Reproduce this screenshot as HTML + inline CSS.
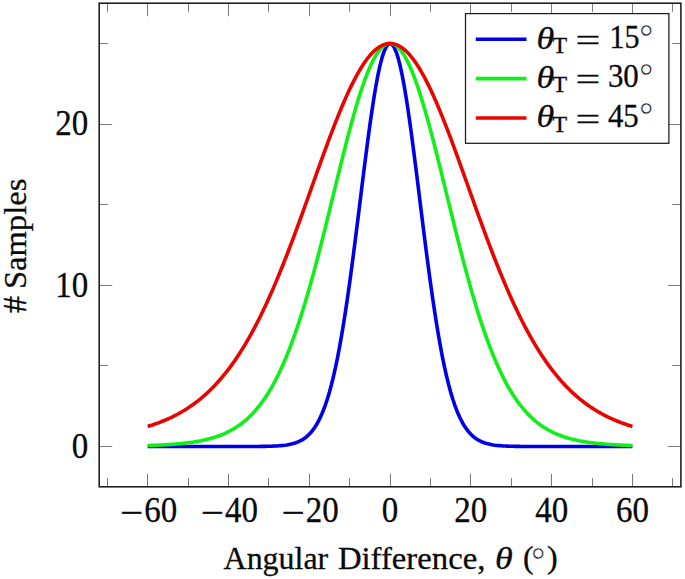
<!DOCTYPE html>
<html><head><meta charset="utf-8"><title>Samples vs Angular Difference</title>
<style>html,body{margin:0;padding:0;background:#fff}svg{display:block}text{font-family:"Liberation Serif","DejaVu Serif",serif;fill:#0a0a0a;stroke:#0a0a0a;stroke-width:.3px}</style></head><body>
<svg width="685" height="579" viewBox="0 0 685 579">
<rect width="685" height="579" fill="#fff"/>
<path d="M107.50 486.80v-8.60M107.50 3.20v8.60M147.50 486.80v-13.00M147.50 3.20v13.00M188.50 486.80v-8.60M188.50 3.20v8.60M228.50 486.80v-13.00M228.50 3.20v13.00M268.50 486.80v-8.60M268.50 3.20v8.60M309.50 486.80v-13.00M309.50 3.20v13.00M349.50 486.80v-8.60M349.50 3.20v8.60M390.50 486.80v-13.00M390.50 3.20v13.00M430.50 486.80v-8.60M430.50 3.20v8.60M470.50 486.80v-13.00M470.50 3.20v13.00M511.50 486.80v-8.60M511.50 3.20v8.60M551.50 486.80v-13.00M551.50 3.20v13.00M592.50 486.80v-8.60M592.50 3.20v8.60M632.50 486.80v-13.00M632.50 3.20v13.00M672.50 486.80v-8.60M672.50 3.20v8.60M99.20 446.50h13.00M680.90 446.50h-13.00M99.20 365.50h8.60M680.90 365.50h-8.60M99.20 285.50h13.00M680.90 285.50h-13.00M99.20 204.50h8.60M680.90 204.50h-8.60M99.20 124.50h13.00M680.90 124.50h-13.00M99.20 43.50h8.60M680.90 43.50h-8.60" stroke="#7a7a7a" stroke-width="1" fill="none"/>
<path d="M147.68 446.50 L149.69 446.50 L151.71 446.50 L153.73 446.50 L155.75 446.50 L157.77 446.50 L159.79 446.50 L161.81 446.50 L163.83 446.50 L165.85 446.50 L167.87 446.50 L169.89 446.50 L171.91 446.50 L173.93 446.50 L175.95 446.50 L177.97 446.50 L179.99 446.50 L182.01 446.50 L184.03 446.50 L186.05 446.50 L188.07 446.50 L190.09 446.50 L192.11 446.50 L194.13 446.50 L196.15 446.50 L198.17 446.50 L200.19 446.50 L202.21 446.50 L204.23 446.50 L206.25 446.50 L208.27 446.50 L210.29 446.50 L212.31 446.50 L214.33 446.50 L216.35 446.50 L218.37 446.50 L220.39 446.50 L222.41 446.50 L224.43 446.50 L226.45 446.50 L228.47 446.50 L230.49 446.50 L232.51 446.50 L234.53 446.50 L236.55 446.50 L238.57 446.49 L240.59 446.49 L242.61 446.49 L244.62 446.49 L246.64 446.48 L248.66 446.48 L250.68 446.47 L252.70 446.46 L254.72 446.45 L256.74 446.44 L258.76 446.43 L260.78 446.41 L262.80 446.38 L264.82 446.35 L266.84 446.32 L268.86 446.27 L270.88 446.21 L272.90 446.14 L274.92 446.05 L276.94 445.94 L278.96 445.81 L280.98 445.64 L283.00 445.44 L285.02 445.20 L287.04 444.91 L289.06 444.55 L291.08 444.13 L293.10 443.61 L295.12 443.00 L297.14 442.28 L299.16 441.41 L301.18 440.39 L303.20 439.20 L305.22 437.79 L307.24 436.15 L309.26 434.24 L311.28 432.03 L313.30 429.48 L315.32 426.56 L317.34 423.21 L319.36 419.41 L321.38 415.10 L323.40 410.24 L325.42 404.80 L327.44 398.72 L329.46 391.96 L331.48 384.49 L333.50 376.29 L335.52 367.31 L337.54 357.55 L339.56 346.99 L341.57 335.63 L343.59 323.50 L345.61 310.60 L347.63 296.98 L349.65 282.70 L351.67 267.81 L353.69 252.41 L355.71 236.60 L357.73 220.48 L359.75 204.18 L361.77 187.84 L363.79 171.62 L365.81 155.68 L367.83 140.17 L369.85 125.27 L371.87 111.16 L373.89 97.99 L375.91 85.94 L377.93 75.15 L379.95 65.75 L381.97 57.89 L383.99 51.66 L386.01 47.15 L388.03 44.42 L390.05 43.50 L392.07 44.42 L394.09 47.15 L396.11 51.66 L398.13 57.89 L400.15 65.75 L402.17 75.15 L404.19 85.94 L406.21 97.99 L408.23 111.16 L410.25 125.27 L412.27 140.17 L414.29 155.68 L416.31 171.62 L418.33 187.84 L420.35 204.18 L422.37 220.48 L424.39 236.60 L426.41 252.41 L428.43 267.81 L430.45 282.70 L432.47 296.98 L434.49 310.60 L436.51 323.50 L438.52 335.63 L440.54 346.99 L442.56 357.55 L444.58 367.31 L446.60 376.29 L448.62 384.49 L450.64 391.96 L452.66 398.72 L454.68 404.80 L456.70 410.24 L458.72 415.10 L460.74 419.41 L462.76 423.21 L464.78 426.56 L466.80 429.48 L468.82 432.03 L470.84 434.24 L472.86 436.15 L474.88 437.79 L476.90 439.20 L478.92 440.39 L480.94 441.41 L482.96 442.28 L484.98 443.00 L487.00 443.61 L489.02 444.13 L491.04 444.55 L493.06 444.91 L495.08 445.20 L497.10 445.44 L499.12 445.64 L501.14 445.81 L503.16 445.94 L505.18 446.05 L507.20 446.14 L509.22 446.21 L511.24 446.27 L513.26 446.32 L515.28 446.35 L517.30 446.38 L519.32 446.41 L521.34 446.43 L523.36 446.44 L525.38 446.45 L527.40 446.46 L529.42 446.47 L531.44 446.48 L533.46 446.48 L535.48 446.49 L537.49 446.49 L539.51 446.49 L541.53 446.49 L543.55 446.50 L545.57 446.50 L547.59 446.50 L549.61 446.50 L551.63 446.50 L553.65 446.50 L555.67 446.50 L557.69 446.50 L559.71 446.50 L561.73 446.50 L563.75 446.50 L565.77 446.50 L567.79 446.50 L569.81 446.50 L571.83 446.50 L573.85 446.50 L575.87 446.50 L577.89 446.50 L579.91 446.50 L581.93 446.50 L583.95 446.50 L585.97 446.50 L587.99 446.50 L590.01 446.50 L592.03 446.50 L594.05 446.50 L596.07 446.50 L598.09 446.50 L600.11 446.50 L602.13 446.50 L604.15 446.50 L606.17 446.50 L608.19 446.50 L610.21 446.50 L612.23 446.50 L614.25 446.50 L616.27 446.50 L618.29 446.50 L620.31 446.50 L622.33 446.50 L624.35 446.50 L626.37 446.50 L628.39 446.50 L630.41 446.50 L632.42 446.50" stroke="#0000e6" stroke-width="3.6" fill="none" stroke-linejoin="round"/>
<path d="M147.68 445.50 L149.69 445.44 L151.71 445.37 L153.73 445.30 L155.75 445.22 L157.77 445.14 L159.79 445.05 L161.81 444.95 L163.83 444.85 L165.85 444.74 L167.87 444.62 L169.89 444.49 L171.91 444.36 L173.93 444.21 L175.95 444.05 L177.97 443.88 L179.99 443.70 L182.01 443.50 L184.03 443.29 L186.05 443.06 L188.07 442.81 L190.09 442.55 L192.11 442.27 L194.13 441.97 L196.15 441.64 L198.17 441.29 L200.19 440.92 L202.21 440.51 L204.23 440.08 L206.25 439.62 L208.27 439.12 L210.29 438.59 L212.31 438.01 L214.33 437.40 L216.35 436.74 L218.37 436.04 L220.39 435.29 L222.41 434.48 L224.43 433.62 L226.45 432.70 L228.47 431.72 L230.49 430.67 L232.51 429.54 L234.53 428.35 L236.55 427.07 L238.57 425.72 L240.59 424.27 L242.61 422.73 L244.62 421.09 L246.64 419.35 L248.66 417.51 L250.68 415.55 L252.70 413.47 L254.72 411.27 L256.74 408.94 L258.76 406.48 L260.78 403.88 L262.80 401.13 L264.82 398.23 L266.84 395.18 L268.86 391.96 L270.88 388.58 L272.90 385.03 L274.92 381.30 L276.94 377.39 L278.96 373.30 L280.98 369.02 L283.00 364.54 L285.02 359.88 L287.04 355.01 L289.06 349.95 L291.08 344.68 L293.10 339.22 L295.12 333.55 L297.14 327.68 L299.16 321.62 L301.18 315.36 L303.20 308.90 L305.22 302.25 L307.24 295.43 L309.26 288.42 L311.28 281.24 L313.30 273.90 L315.32 266.41 L317.34 258.77 L319.36 251.00 L321.38 243.12 L323.40 235.13 L325.42 227.05 L327.44 218.90 L329.46 210.69 L331.48 202.44 L333.50 194.17 L335.52 185.91 L337.54 177.66 L339.56 169.46 L341.57 161.32 L343.59 153.27 L345.61 145.33 L347.63 137.53 L349.65 129.88 L351.67 122.41 L353.69 115.15 L355.71 108.12 L357.73 101.35 L359.75 94.85 L361.77 88.65 L363.79 82.77 L365.81 77.23 L367.83 72.05 L369.85 67.26 L371.87 62.87 L373.89 58.89 L375.91 55.34 L377.93 52.23 L379.95 49.59 L381.97 47.41 L383.99 45.70 L386.01 44.48 L388.03 43.75 L390.05 43.50 L392.07 43.75 L394.09 44.48 L396.11 45.70 L398.13 47.41 L400.15 49.59 L402.17 52.23 L404.19 55.34 L406.21 58.89 L408.23 62.87 L410.25 67.26 L412.27 72.05 L414.29 77.23 L416.31 82.77 L418.33 88.65 L420.35 94.85 L422.37 101.35 L424.39 108.12 L426.41 115.15 L428.43 122.41 L430.45 129.88 L432.47 137.53 L434.49 145.33 L436.51 153.27 L438.52 161.32 L440.54 169.46 L442.56 177.66 L444.58 185.91 L446.60 194.17 L448.62 202.44 L450.64 210.69 L452.66 218.90 L454.68 227.05 L456.70 235.13 L458.72 243.12 L460.74 251.00 L462.76 258.77 L464.78 266.41 L466.80 273.90 L468.82 281.24 L470.84 288.42 L472.86 295.43 L474.88 302.25 L476.90 308.90 L478.92 315.36 L480.94 321.62 L482.96 327.68 L484.98 333.55 L487.00 339.22 L489.02 344.68 L491.04 349.95 L493.06 355.01 L495.08 359.88 L497.10 364.54 L499.12 369.02 L501.14 373.30 L503.16 377.39 L505.18 381.30 L507.20 385.03 L509.22 388.58 L511.24 391.96 L513.26 395.18 L515.28 398.23 L517.30 401.13 L519.32 403.88 L521.34 406.48 L523.36 408.94 L525.38 411.27 L527.40 413.47 L529.42 415.55 L531.44 417.51 L533.46 419.35 L535.48 421.09 L537.49 422.73 L539.51 424.27 L541.53 425.72 L543.55 427.07 L545.57 428.35 L547.59 429.54 L549.61 430.67 L551.63 431.72 L553.65 432.70 L555.67 433.62 L557.69 434.48 L559.71 435.29 L561.73 436.04 L563.75 436.74 L565.77 437.40 L567.79 438.01 L569.81 438.59 L571.83 439.12 L573.85 439.62 L575.87 440.08 L577.89 440.51 L579.91 440.92 L581.93 441.29 L583.95 441.64 L585.97 441.97 L587.99 442.27 L590.01 442.55 L592.03 442.81 L594.05 443.06 L596.07 443.29 L598.09 443.50 L600.11 443.70 L602.13 443.88 L604.15 444.05 L606.17 444.21 L608.19 444.36 L610.21 444.49 L612.23 444.62 L614.25 444.74 L616.27 444.85 L618.29 444.95 L620.31 445.05 L622.33 445.14 L624.35 445.22 L626.37 445.30 L628.39 445.37 L630.41 445.44 L632.42 445.50" stroke="#10f018" stroke-width="3.6" fill="none" stroke-linejoin="round"/>
<path d="M147.68 426.44 L149.69 425.82 L151.71 425.17 L153.73 424.50 L155.75 423.80 L157.77 423.08 L159.79 422.32 L161.81 421.54 L163.83 420.72 L165.85 419.87 L167.87 418.98 L169.89 418.06 L171.91 417.10 L173.93 416.11 L175.95 415.07 L177.97 414.00 L179.99 412.88 L182.01 411.72 L184.03 410.51 L186.05 409.26 L188.07 407.96 L190.09 406.61 L192.11 405.21 L194.13 403.76 L196.15 402.25 L198.17 400.68 L200.19 399.06 L202.21 397.38 L204.23 395.64 L206.25 393.83 L208.27 391.96 L210.29 390.02 L212.31 388.02 L214.33 385.94 L216.35 383.79 L218.37 381.57 L220.39 379.28 L222.41 376.91 L224.43 374.46 L226.45 371.92 L228.47 369.31 L230.49 366.62 L232.51 363.84 L234.53 360.97 L236.55 358.02 L238.57 354.98 L240.59 351.85 L242.61 348.63 L244.62 345.31 L246.64 341.91 L248.66 338.41 L250.68 334.82 L252.70 331.13 L254.72 327.35 L256.74 323.47 L258.76 319.50 L260.78 315.44 L262.80 311.28 L264.82 307.03 L266.84 302.68 L268.86 298.24 L270.88 293.72 L272.90 289.10 L274.92 284.40 L276.94 279.61 L278.96 274.74 L280.98 269.79 L283.00 264.76 L285.02 259.66 L287.04 254.48 L289.06 249.24 L291.08 243.94 L293.10 238.57 L295.12 233.15 L297.14 227.68 L299.16 222.16 L301.18 216.61 L303.20 211.02 L305.22 205.40 L307.24 199.75 L309.26 194.10 L311.28 188.43 L313.30 182.76 L315.32 177.10 L317.34 171.45 L319.36 165.81 L321.38 160.21 L323.40 154.64 L325.42 149.11 L327.44 143.64 L329.46 138.23 L331.48 132.88 L333.50 127.61 L335.52 122.43 L337.54 117.35 L339.56 112.36 L341.57 107.49 L343.59 102.74 L345.61 98.12 L347.63 93.63 L349.65 89.29 L351.67 85.10 L353.69 81.08 L355.71 77.22 L357.73 73.54 L359.75 70.05 L361.77 66.74 L363.79 63.64 L365.81 60.73 L367.83 58.04 L369.85 55.56 L371.87 53.30 L373.89 51.27 L375.91 49.46 L377.93 47.89 L379.95 46.56 L381.97 45.46 L383.99 44.60 L386.01 43.99 L388.03 43.62 L390.05 43.50 L392.07 43.62 L394.09 43.99 L396.11 44.60 L398.13 45.46 L400.15 46.56 L402.17 47.89 L404.19 49.46 L406.21 51.27 L408.23 53.30 L410.25 55.56 L412.27 58.04 L414.29 60.73 L416.31 63.64 L418.33 66.74 L420.35 70.05 L422.37 73.54 L424.39 77.22 L426.41 81.08 L428.43 85.10 L430.45 89.29 L432.47 93.63 L434.49 98.12 L436.51 102.74 L438.52 107.49 L440.54 112.36 L442.56 117.35 L444.58 122.43 L446.60 127.61 L448.62 132.88 L450.64 138.23 L452.66 143.64 L454.68 149.11 L456.70 154.64 L458.72 160.21 L460.74 165.81 L462.76 171.45 L464.78 177.10 L466.80 182.76 L468.82 188.43 L470.84 194.10 L472.86 199.75 L474.88 205.40 L476.90 211.02 L478.92 216.61 L480.94 222.16 L482.96 227.68 L484.98 233.15 L487.00 238.57 L489.02 243.94 L491.04 249.24 L493.06 254.48 L495.08 259.66 L497.10 264.76 L499.12 269.79 L501.14 274.74 L503.16 279.61 L505.18 284.40 L507.20 289.10 L509.22 293.72 L511.24 298.24 L513.26 302.68 L515.28 307.03 L517.30 311.28 L519.32 315.44 L521.34 319.50 L523.36 323.47 L525.38 327.35 L527.40 331.13 L529.42 334.82 L531.44 338.41 L533.46 341.91 L535.48 345.31 L537.49 348.63 L539.51 351.85 L541.53 354.98 L543.55 358.02 L545.57 360.97 L547.59 363.84 L549.61 366.62 L551.63 369.31 L553.65 371.92 L555.67 374.46 L557.69 376.91 L559.71 379.28 L561.73 381.57 L563.75 383.79 L565.77 385.94 L567.79 388.02 L569.81 390.02 L571.83 391.96 L573.85 393.83 L575.87 395.64 L577.89 397.38 L579.91 399.06 L581.93 400.68 L583.95 402.25 L585.97 403.76 L587.99 405.21 L590.01 406.61 L592.03 407.96 L594.05 409.26 L596.07 410.51 L598.09 411.72 L600.11 412.88 L602.13 414.00 L604.15 415.07 L606.17 416.11 L608.19 417.10 L610.21 418.06 L612.23 418.98 L614.25 419.87 L616.27 420.72 L618.29 421.54 L620.31 422.32 L622.33 423.08 L624.35 423.80 L626.37 424.50 L628.39 425.17 L630.41 425.82 L632.42 426.44" stroke="#e80500" stroke-width="3.6" fill="none" stroke-linejoin="round"/>
<rect x="99.20" y="3.20" width="581.70" height="483.60" fill="none" stroke="#1a1a1a" stroke-width="1.55"/>
<rect x="465.5" y="13.6" width="203.4" height="129.7" fill="#fff" stroke="#1a1a1a" stroke-width="1.25"/>
<path d="M475.8 39.30H526.5" stroke="#0000e6" stroke-width="3.6"/>
<text transform="translate(536.5 48.50) scale(1.13 0.965)" font-size="32" font-style="italic" style="stroke-width:.28px">θ</text>
<text x="552.4" y="52.90" font-size="24">T</text>
<text x="575.6" y="51.00" font-size="32" textLength="24.8" lengthAdjust="spacingAndGlyphs" style="stroke-width:.3px">=</text>
<text transform="translate(609.4 47.80) scale(0.925 1.04)" font-size="32.5">15</text>
<text x="639.3" y="48.70" font-size="35" style="stroke:#fff;stroke-width:.5px">°</text>
<path d="M475.8 78.65H526.5" stroke="#10f018" stroke-width="3.6"/>
<text transform="translate(536.5 87.85) scale(1.13 0.965)" font-size="32" font-style="italic" style="stroke-width:.28px">θ</text>
<text x="552.4" y="92.25" font-size="24">T</text>
<text x="575.6" y="90.00" font-size="32" textLength="24.8" lengthAdjust="spacingAndGlyphs" style="stroke-width:.3px">=</text>
<text transform="translate(607.9 87.15) scale(0.95 1.04)" font-size="32.5">30</text>
<text x="639.3" y="88.05" font-size="35" style="stroke:#fff;stroke-width:.5px">°</text>
<path d="M475.8 118.00H526.5" stroke="#e80500" stroke-width="3.6"/>
<text transform="translate(536.5 127.20) scale(1.13 0.965)" font-size="32" font-style="italic" style="stroke-width:.28px">θ</text>
<text x="552.4" y="131.60" font-size="24">T</text>
<text x="575.6" y="130.00" font-size="32" textLength="24.8" lengthAdjust="spacingAndGlyphs" style="stroke-width:.3px">=</text>
<text transform="translate(607.9 126.50) scale(0.95 1.04)" font-size="32.5">45</text>
<text x="639.3" y="127.40" font-size="35" style="stroke:#fff;stroke-width:.5px">°</text>
<text x="119.98" y="523.8" font-size="34" textLength="22.8" lengthAdjust="spacingAndGlyphs" style="stroke-width:.5px">−</text>
<text transform="translate(144.18 521.7) scale(0.97 1.035)" font-size="34">60</text>
<text x="200.77" y="523.8" font-size="34" textLength="22.8" lengthAdjust="spacingAndGlyphs" style="stroke-width:.5px">−</text>
<text transform="translate(224.97 521.7) scale(0.97 1.035)" font-size="34">40</text>
<text x="281.56" y="523.8" font-size="34" textLength="22.8" lengthAdjust="spacingAndGlyphs" style="stroke-width:.5px">−</text>
<text transform="translate(305.76 521.7) scale(0.97 1.035)" font-size="34">20</text>
<text transform="translate(390.05 521.7) scale(0.97 1.035)" font-size="34" text-anchor="middle">0</text>
<text transform="translate(470.84 521.7) scale(0.97 1.035)" font-size="34" text-anchor="middle">20</text>
<text transform="translate(551.63 521.7) scale(0.97 1.035)" font-size="34" text-anchor="middle">40</text>
<text transform="translate(632.42 521.7) scale(0.97 1.035)" font-size="34" text-anchor="middle">60</text>
<text transform="translate(88.3 457.70) scale(0.97 1.035)" font-size="34" text-anchor="end">0</text>
<text transform="translate(88.3 296.50) scale(0.97 1.035)" font-size="34" text-anchor="end">10</text>
<text transform="translate(88.3 135.30) scale(0.97 1.035)" font-size="34" text-anchor="end">20</text>
<text x="223.6" y="568.6" font-size="32" textLength="104.6" lengthAdjust="spacingAndGlyphs">Angular</text>
<text x="337.9" y="568.6" font-size="32" textLength="147.5" lengthAdjust="spacingAndGlyphs">Difference,</text>
<text transform="translate(494.9 568.9) scale(1.13 0.965)" font-size="32" font-style="italic" style="stroke-width:.28px">θ</text>
<text x="523.0" y="568.3" font-size="32">(</text>
<text x="531.25" y="571.7" font-size="35" style="stroke:#fff;stroke-width:.5px">°</text>
<text x="546.9" y="568.3" font-size="32">)</text>
<text transform="translate(26.0 289.0) rotate(-90)" font-size="32" textLength="110.3" lengthAdjust="spacingAndGlyphs">Samples</text>
<text transform="translate(26.0 313.0) rotate(-90)" font-size="34">#</text>
</svg></body></html>
